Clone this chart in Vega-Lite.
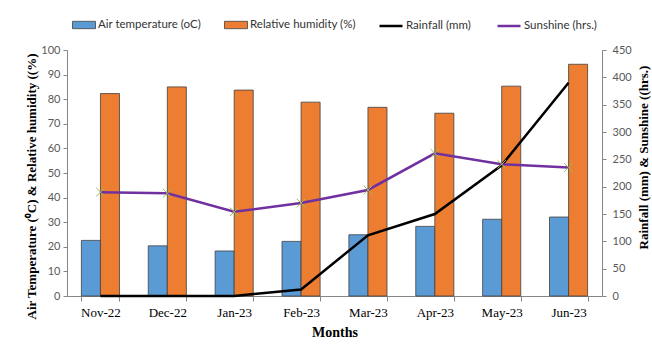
{
  "$schema": "https://vega.github.io/schema/vega-lite/v6.json",
  "width": 535,
  "height": 246,
  "autosize": {"type": "none"},
  "padding": {"left": 67, "top": 50, "right": 50, "bottom": 49},
  "background": "white",
  "config": {
    "view": {"stroke": null},
    "axis": {"grid": false, "domainColor": "#868686", "tickColor": "#868686"},
    "legend": {
      "orient": "top",
      "direction": "horizontal",
      "padding": 0,
      "offset": 18,
      "labelFont": "Lato",
      "labelFontSize": 11.5,
      "labelColor": "#333333",
      "labelOffset": 2,
      "columnPadding": 21,
      "layout": {"top": {"anchor": "middle", "direction": "horizontal", "margin": 22}}
    }
  },
  "data": {
    "values": [
      {"Month": "Nov-22", "Temp": 22.6, "RH": 82.3, "Rain": 0, "Sun": 190},
      {"Month": "Dec-22", "Temp": 20.4, "RH": 85.0, "Rain": 0, "Sun": 188},
      {"Month": "Jan-23", "Temp": 18.3, "RH": 83.7, "Rain": 0, "Sun": 154},
      {"Month": "Feb-23", "Temp": 22.2, "RH": 78.8, "Rain": 12, "Sun": 170},
      {"Month": "Mar-23", "Temp": 24.9, "RH": 76.7, "Rain": 111, "Sun": 194},
      {"Month": "Apr-23", "Temp": 28.3, "RH": 74.3, "Rain": 150, "Sun": 261},
      {"Month": "May-23", "Temp": 31.2, "RH": 85.3, "Rain": 239, "Sun": 241},
      {"Month": "Jun-23", "Temp": 32.1, "RH": 94.2, "Rain": 390, "Sun": 235}
    ]
  },
  "layer": [
    {
      "transform": [{"fold": ["Temp", "RH"], "as": ["series", "val"]}],
      "mark": {"type": "bar", "stroke": "#404040", "strokeWidth": 0.8},
      "encoding": {
        "x": {
          "field": "Month", "type": "nominal", "sort": null,
          "scale": {"paddingInner": 0.43, "paddingOuter": 0.215},
          "axis": {
            "title": "Months", "titleFont": "Liberation Serif", "titleFontSize": 14, "titleFontWeight": "bold", "titleColor": "black", "titlePadding": 6,
            "labelFont": "Liberation Serif", "labelFontSize": 13, "labelColor": "black", "labelAngle": 0, "labelPadding": 5,
            "tickBand": "extent", "tickSize": 5
          }
        },
        "xOffset": {"field": "series", "type": "nominal", "sort": ["Temp", "RH"], "scale": {"paddingInner": 0, "paddingOuter": 0}},
        "y": {
          "field": "val", "type": "quantitative",
          "scale": {"domain": [0, 100], "nice": false},
          "axis": {
            "orient": "left", "values": [0,10,20,30,40,50,60,70,80,90,100],
            "title": "Air Temperature (⁰C) & Relative humidity ((%)",
            "titleFont": "Liberation Serif", "titleFontSize": 13, "titleFontWeight": "bold", "titleColor": "black", "titlePadding": 2, "titleY": 136,
            "labelFont": "Lato", "labelFontSize": 11, "labelColor": "#595959", "tickSize": 4, "labelPadding": 3
          }
        },
        "fill": {
          "field": "series", "type": "nominal",
          "scale": {"domain": ["Temp", "RH"], "range": ["#5B9BD5", "#ED7D31"]},
          "legend": {
            "title": null,
            "gridAlign": "none",
            "symbolType": "M-1,-0.32H1V0.32H-1Z",
            "symbolSize": 529,
            "symbolStrokeColor": "#404040",
            "symbolStrokeWidth": 0.8,
            "labelExpr": "datum.label == 'Temp' ? 'Air temperature (oC)' : 'Relative humidity (%)'"
          }
        }
      }
    },
    {
      "transform": [{"fold": ["Rain", "Sun"], "as": ["series2", "val2"]}],
      "mark": {"type": "line", "strokeWidth": 2.5},
      "encoding": {
        "x": {"field": "Month", "type": "nominal", "sort": null},
        "y": {
          "field": "val2", "type": "quantitative",
          "scale": {"domain": [0, 450], "nice": false},
          "axis": {
            "orient": "right", "values": [0,50,100,150,200,250,300,350,400,450],
            "title": "Rainfall (mm) & Sunshine ((hrs.)",
            "titleFont": "Liberation Serif", "titleFontSize": 13, "titleFontWeight": "bold", "titleColor": "black", "titlePadding": 6, "titleAngle": -90, "titleBaseline": "top", "titleY": 107,
            "labelFont": "Lato", "labelFontSize": 11, "labelColor": "#595959", "tickSize": 4, "labelPadding": 6
          }
        },
        "stroke": {
          "field": "series2", "type": "nominal",
          "scale": {"domain": ["Rain", "Sun"], "range": ["#000000", "#7030A0"]},
          "legend": {
            "title": null,
            "gridAlign": "none",
            "symbolType": "stroke",
            "symbolSize": 529,
            "symbolStrokeWidth": 2.5,
            "labelExpr": "datum.label == 'Rain' ? 'Rainfall (mm)' : 'Sunshine (hrs.)'"
          }
        }
      }
    },
    {
      "mark": {"type": "point", "shape": "M-1,-1L1,1M-1,1L1,-1", "stroke": "#9BBB59", "strokeWidth": 1, "size": 75, "filled": false, "opacity": 1},
      "encoding": {
        "x": {"field": "Month", "type": "nominal", "sort": null},
        "y": {"field": "Sun", "type": "quantitative", "scale": {"domain": [0, 450], "nice": false}, "axis": null}
      }
    }
  ],
  "resolve": {"scale": {"y": "independent"}}
}
